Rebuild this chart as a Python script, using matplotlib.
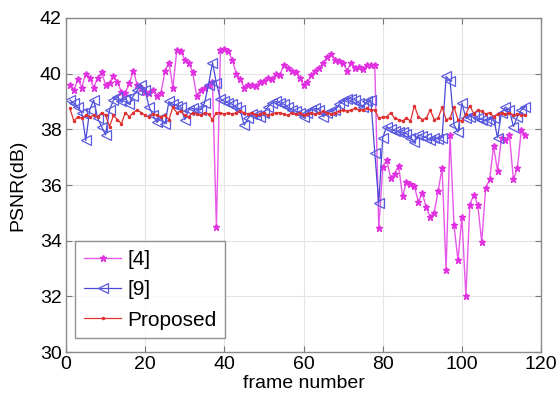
import matplotlib
matplotlib.use("Agg")
import matplotlib.pyplot as plt
import numpy as np

plt.rcParams['font.family'] = ['Liberation Sans', 'DejaVu Sans']

frames = list(range(1, 117))

psnr_ref4 = [
    39.6, 39.4, 39.8, 39.5, 40.0, 39.85, 39.5, 39.85, 40.05, 39.6,
    39.65, 39.9, 39.7, 39.35, 39.3, 39.65, 40.1, 39.6, 39.5, 39.35,
    39.3, 39.4, 39.2, 39.3, 40.1, 40.4, 39.5, 40.85, 40.8, 40.5,
    40.4, 40.05, 39.2, 39.4, 39.5, 39.6, 39.7, 34.5, 40.85, 40.9,
    40.8, 40.5, 40.0, 39.8, 39.5, 39.6, 39.6, 39.55, 39.7, 39.75,
    39.85, 39.8, 40.0, 39.95, 40.3, 40.2, 40.1, 40.05, 39.85, 39.6,
    39.7, 39.95, 40.1, 40.2, 40.4, 40.6, 40.7, 40.5, 40.45, 40.4,
    40.1, 40.4, 40.2, 40.25, 40.15, 40.3, 40.3, 40.3, 34.45, 36.65,
    36.9, 36.25, 36.4, 36.7, 35.6, 36.1, 36.05, 35.95, 35.4, 35.7,
    35.2, 34.85, 35.0, 35.8, 36.6, 32.95, 37.8, 34.55, 33.3, 34.85,
    32.0, 35.3, 35.65, 35.3, 33.95, 35.9, 36.2, 37.4, 36.5, 37.7,
    37.6, 37.8, 36.2, 36.6, 37.97, 37.8,
]

psnr_ref9 = [
    39.05, 38.95, 38.8, 38.6, 37.6, 38.7, 39.05, 38.4, 38.1, 37.8,
    38.7, 39.05, 39.15, 39.0, 39.1, 38.9, 39.2, 39.4, 39.6, 39.4,
    38.8, 38.5, 38.25, 38.4, 38.2, 39.0, 38.9, 38.85, 38.8, 38.35,
    38.7, 38.75, 38.7, 38.7, 38.95, 39.6, 40.4, 39.65, 39.1, 39.0,
    38.95, 38.9, 38.8, 38.7, 38.15, 38.4, 38.55, 38.5, 38.45, 38.6,
    38.8, 38.95, 39.0, 38.95, 38.9, 38.8, 38.7, 38.65, 38.6, 38.45,
    38.6, 38.7, 38.75, 38.7, 38.45, 38.6, 38.65, 38.7, 38.9, 39.0,
    39.1, 39.1, 39.05, 38.95, 38.8, 39.0, 39.05, 37.15, 35.35, 37.7,
    38.1, 38.0, 37.95, 37.9, 37.9, 37.85, 37.7, 37.55, 37.8, 37.75,
    37.7, 37.6, 37.7, 37.65, 37.7, 39.9, 39.75, 38.15, 37.9, 38.95,
    38.4, 38.45, 38.5, 38.4, 38.35, 38.3, 38.35, 38.4, 37.7, 38.6,
    38.8, 38.7, 38.1, 38.45, 38.7, 38.8,
]

psnr_proposed = [
    38.75, 38.3, 38.45, 38.4, 38.5, 38.45, 38.5, 38.45, 38.6, 38.5,
    38.1, 38.5, 38.35, 38.2, 38.6, 38.45, 38.6, 38.7, 38.6, 38.5,
    38.45, 38.55, 38.5, 38.45, 38.5, 38.35, 38.8, 38.6, 38.65, 38.5,
    38.45, 38.6, 38.55, 38.5, 38.6, 38.55, 38.35, 38.6, 38.6, 38.55,
    38.6, 38.55, 38.6, 38.65, 38.6, 38.55, 38.6, 38.5, 38.55, 38.6,
    38.5, 38.55, 38.6, 38.6, 38.55, 38.5, 38.6, 38.55, 38.6, 38.5,
    38.55, 38.6, 38.55, 38.6, 38.65, 38.6, 38.55, 38.6, 38.65, 38.7,
    38.65, 38.7, 38.75, 38.7, 38.7, 38.75, 38.7, 38.7, 38.4, 38.45,
    38.45, 38.6, 38.4, 38.35, 38.3, 38.4, 38.3, 38.85, 38.45, 38.35,
    38.4, 38.7, 38.35, 38.4, 38.8, 38.35, 38.4, 38.8, 38.35, 38.3,
    38.55, 38.85, 38.55, 38.7, 38.65, 38.55, 38.6, 38.45, 38.55, 38.6,
    38.55, 38.6, 38.5, 38.55, 38.5, 38.5,
]

series_labels = ['[4]', '[9]', 'Proposed']
x_ticks = [0, 20, 40, 60, 80, 100, 120]
y_ticks = [30, 32, 34, 36, 38, 40, 42]

fig = plt.figure(figsize=(5.59, 4.08), dpi=100)
ax = fig.add_axes([0.118, 0.137, 0.850, 0.819])

ax.plot(frames, psnr_ref4, color='#e858e8', lw=1.0, marker='*',
        ms=5, mec='#e030e0', mfc='#e030e0', label=series_labels[0])
ax.plot(frames, psnr_ref9, color='#4a4ad8', lw=0.9, marker='<',
        ms=7, mfc='none', mec='#5a5ae0', mew=0.9, label=series_labels[1])
ax.plot(frames, psnr_proposed, color='#e03030', lw=0.9, marker='.',
        ms=3, label=series_labels[2])

ax.set_xlim(0, 120)
ax.set_ylim(30, 42)
ax.set_xticks(x_ticks)
ax.set_yticks(y_ticks)
ax.grid(True, color='#e4e4e4', lw=0.8)
ax.set_axisbelow(True)
ax.tick_params(direction='in', top=True, right=True, labelsize=14,
               length=4, color='#777777', pad=3)
for s in ax.spines.values():
    s.set_color('#8a8a8a')
    s.set_linewidth(1.0)

ax.set_xlabel('frame number', fontsize=14, labelpad=1)
ax.set_ylabel('PSNR(dB)', fontsize=14, labelpad=10)

leg = ax.legend(loc='lower left', bbox_to_anchor=(0.02, 0.042),
                fontsize=15, frameon=True, fancybox=False,
                handlelength=1.8, handletextpad=0.3, borderpad=0.4,
                labelspacing=0.55, borderaxespad=0)
leg.get_frame().set_edgecolor('#777777')
leg.get_frame().set_linewidth(1.0)

fig.savefig('out.png', dpi=100)
